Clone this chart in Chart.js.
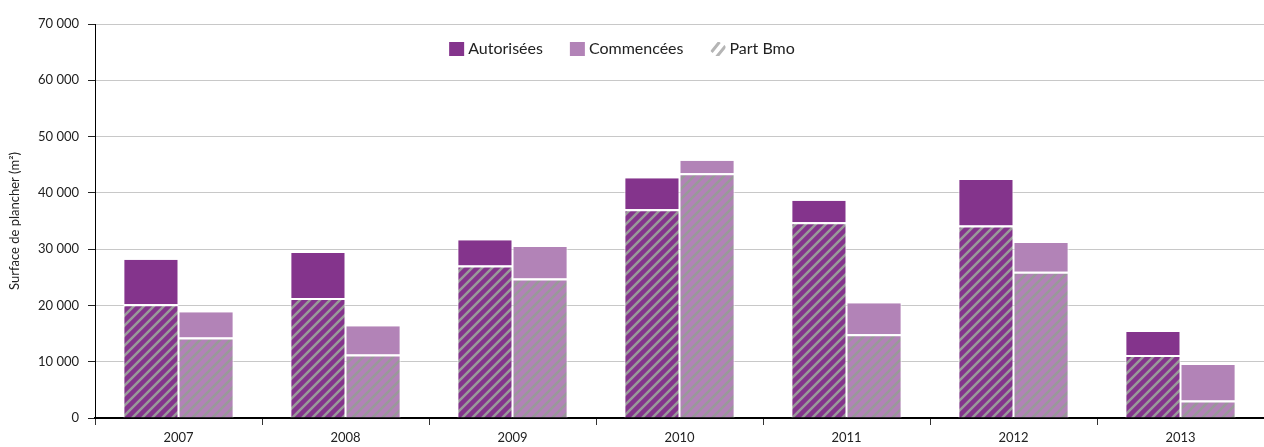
<!DOCTYPE html>
<html>
<head>
<meta charset="utf-8">
<script src="https://cdn.jsdelivr.net/npm/chart.js@4/dist/chart.umd.min.js"></script>
<style>
html, body { margin: 0; padding: 0; background: #fff; }
#wrap { width: 1264px; height: 447px; position: relative; }
</style>
</head>
<body>
<div id="wrap"><canvas id="barChart"></canvas></div>
<script>
// surfaces de plancher (m²)
var years = ['2007', '2008', '2009', '2010', '2011', '2012', '2013'];
var autorisees = [28100, 29300, 31600, 42600, 38600, 42300, 15300];
var autoriseesBmo = [20200, 21300, 27100, 37100, 34800, 34200, 11200];
var commencees = [18800, 16300, 30400, 45700, 20400, 31100, 9400];
var commenceesBmo = [14300, 11300, 24800, 43500, 14900, 26000, 3100];
var yTicks = [0, 10000, 20000, 30000, 40000, 50000, 60000, 70000];

var violet = '#84348c';
var mauve = '#b283b7';
var stripe = '#999999';

function hatch(bg) {
    var c = document.createElement('canvas');
    c.width = 10; c.height = 10;
    var g = c.getContext('2d');
    g.fillStyle = bg;
    g.fillRect(0, 0, 10, 10);
    g.strokeStyle = stripe;
    g.lineWidth = 2.5;
    g.beginPath();
    g.moveTo(-5, 5); g.lineTo(5, -5);
    g.moveTo(0, 10); g.lineTo(10, 0);
    g.moveTo(5, 15); g.lineTo(15, 5);
    g.stroke();
    return g.createPattern(c, 'repeat');
}

function rest(total, part) {
    return total.map(function (v, i) { return v - part[i]; });
}

function fmt(v) {
    return String(v).replace(/\B(?=(\d{3})+(?!\d))/g, ' ');
}

var border = { top: 2, left: 1, right: 1, bottom: 0 };

var barChartData = {
    labels: years,
    datasets: [
        { label: 'Autorisées Bmo', stack: 'a', data: autoriseesBmo, backgroundColor: hatch(violet), borderColor: '#fff', borderWidth: border },
        { label: 'Autorisées', stack: 'a', data: rest(autorisees, autoriseesBmo), backgroundColor: violet, borderColor: '#fff', borderWidth: { top: 0, left: 1, right: 1, bottom: 0 } },
        { label: 'Commencées Bmo', stack: 'c', data: commenceesBmo, backgroundColor: hatch(mauve), borderColor: '#fff', borderWidth: border },
        { label: 'Commencées', stack: 'c', data: rest(commencees, commenceesBmo), backgroundColor: mauve, borderColor: '#fff', borderWidth: { top: 0, left: 1, right: 1, bottom: 0 } }
    ]
};

var legendItems = [
    { text: 'Autorisées', color: violet },
    { text: 'Commencées', color: mauve },
    { text: 'Part Bmo', hatched: true }
];

// legende dessinee dans la zone du graphique
var legendBox = {
    id: 'legendBox',
    afterDraw: function (chart) {
        var ctx = chart.ctx;
        ctx.save();
        ctx.font = '16px Lato, "Noto Sans", sans-serif';
        ctx.textBaseline = 'middle';
        var box = 15, gap = 4, spacing = 27;
        var total = 0;
        legendItems.forEach(function (it, i) {
            total += box + gap + ctx.measureText(it.text).width + (i ? spacing : 0);
        });
        var x = 622 - total / 2;
        var y = 49;
        legendItems.forEach(function (it) {
            if (it.hatched) {
                ctx.save();
                ctx.beginPath();
                ctx.rect(x, y - 7, box, 14);
                ctx.clip();
                ctx.strokeStyle = '#b5b5b5';
                ctx.lineWidth = 3;
                ctx.beginPath();
                ctx.moveTo(x + 1, y + 3); ctx.lineTo(x + 9, y - 7);
                ctx.moveTo(x + 6, y + 8); ctx.lineTo(x + 15, y - 3);
                ctx.stroke();
                ctx.restore();
            } else {
                ctx.fillStyle = it.color;
                ctx.fillRect(x, y - 7, box, 14);
            }
            x += box + gap;
            ctx.fillStyle = '#222';
            ctx.fillText(it.text, x, y);
            x += ctx.measureText(it.text).width + spacing;
        });
        ctx.restore();
    }
};

var barChartOptions = {
    responsive: true,
    maintainAspectRatio: false,
    animation: false,
    layout: { padding: { top: 24, left: 0, right: 0, bottom: 0 } },
    plugins: {
        legend: { display: false },
        tooltip: { enabled: false }
    },
    datasets: {
        bar: { categoryPercentage: 0.66, barPercentage: 1 }
    },
    scales: {
        x: {
            stacked: true,
            z: 1,
            grid: { drawOnChartArea: false, drawTicks: true, tickLength: 7, tickColor: '#333', offset: true },
            border: { color: '#000', width: 2 },
            ticks: { color: '#222', padding: 5, font: { family: 'Lato', size: 13 } },
            afterFit: function (s) { s.height = 29; }
        },
        y: {
            stacked: true,
            min: 0,
            max: 70000,
            afterBuildTicks: function (s) { s.ticks = yTicks.map(function (v) { return { value: v }; }); },
            grid: {
                color: function (c) { return c.tick && c.tick.value === 0 ? 'rgba(0,0,0,0)' : '#c8c8c8'; },
                tickColor: '#222',
                tickLength: 7
            },
            border: { color: '#000', width: 1 },
            ticks: { color: '#222', padding: 9, font: { family: 'Lato', size: 13 }, callback: function (v) { return fmt(v); } },
            title: { display: true, text: 'Surface de plancher (m²)', color: '#222', font: { family: 'Lato', size: 13 }, padding: { top: 7, bottom: 0 } },
            afterFit: function (s) { s.width = 95; }
        }
    }
};

new Chart(document.getElementById('barChart').getContext('2d'), {
    type: 'bar',
    data: barChartData,
    options: barChartOptions,
    plugins: [legendBox]
});
</script>
</body>
</html>
